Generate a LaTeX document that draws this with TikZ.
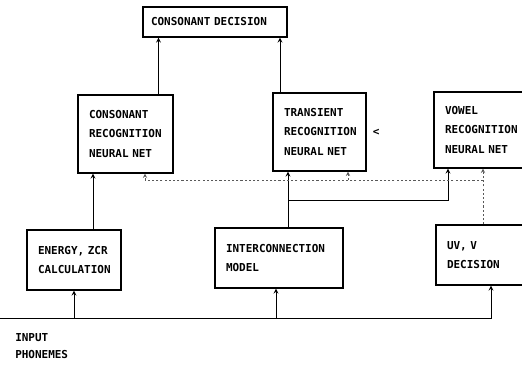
\documentclass[tikz,border=0pt]{standalone}
\usepackage{fontspec}
\setmonofont{DejaVu Sans Mono}
\usetikzlibrary{positioning}
\newcommand{\boxfont}{\ttfamily\bfseries\fontsize{7.8}{13.9}\selectfont}
\begin{document}
\begin{tikzpicture}[
    box/.style={rectangle, draw, thick, align=left, inner xsep=0.275cm, inner ysep=0pt, font=\boxfont},
    arrow/.style={->, >=stealth, semithick},
    dotarrow/.style={->, >=stealth, thin, black!65, dash pattern=on 1.5pt off 1.5pt},
    dotline/.style={thin, black!65, dash pattern=on 1.5pt off 1.5pt}
]
\useasboundingbox (0,0) rectangle (13.05,9.175);

% Decision
\node[box, inner xsep=0.2cm, text width=3.2cm, minimum height=0.75cm] (dec) at (5.375, 8.625) {CONSONANT DECISION};

% Recognition nets
\node[box, text width=1.825cm, minimum height=1.95cm] (cons) at (3.1375, 5.825) {CONSONANT\\RECOGNITION\\NEURAL NET};
\node[box, text width=1.775cm, minimum height=1.95cm] (trans) at (7.9875, 5.875) {TRANSIENT\\RECOGNITION\\NEURAL NET};
\node[inner sep=0pt, font=\boxfont, right=0.15cm of trans] (mark) {<};
\node[box, text width=1.8cm, minimum height=1.9cm] (vowel) at (12.025, 5.925) {VOWEL\\RECOGNITION\\NEURAL NET};

% Front end
\node[box, text width=1.8cm, minimum height=1.5cm] (energy) at (1.85, 2.675) {ENERGY, ZCR\\CALCULATION};
\node[box, text width=2.65cm, minimum height=1.5cm] (inter) at (6.975, 2.725) {INTERCONNECTION\\MODEL};
\node[box, text width=1.75cm, minimum height=1.5cm] (uvv) at (12.05, 2.8) {UV, V\\DECISION};

% Input
\coordinate (input) at (0, 1.225);
\node[inner sep=0pt, anchor=west, align=left, font=\ttfamily\bfseries\fontsize{7.8}{12}\selectfont] (inlabel) at (0.375, 0.5125) {INPUT\\PHONEMES};

\draw[arrow] (input) -| ([xshift=0.225cm]uvv.south);
\draw[arrow] (energy.south |- input) -- (energy.south);
\draw[arrow] ([xshift=-0.075cm]inter.south |- input) -- ([xshift=-0.075cm]inter.south);

% To recognition nets
\draw[arrow] ([xshift=0.475cm]energy.north) -- ([xshift=0.475cm]energy.north |- cons.south);
\coordinate (split) at (7.2, 4.175);
\draw[arrow] ([xshift=0.225cm]inter.north) -- ([xshift=0.225cm]inter.north |- trans.south);
\draw[arrow] (split) -| ([xshift=-0.825cm]vowel.south);

% UV/V decision lines
\coordinate (dotjoin) at (12.075, 4.675);
\draw[dotarrow] (dotjoin |- uvv.north) -- (dotjoin |- vowel.south);
\draw[dotarrow] (dotjoin) -| ([xshift=0.4875cm]cons.south);
\draw[dotarrow] ([xshift=0.7125cm]trans.south |- dotjoin) -- ([xshift=0.7125cm]trans.south);

% To decision
\draw[arrow] ([xshift=0.825cm]cons.north) -- ([xshift=0.825cm]cons.north |- dec.south);
\draw[arrow] ([xshift=-0.9875cm]trans.north) -- ([xshift=-0.9875cm]trans.north |- dec.south);

\end{tikzpicture}
\end{document}
